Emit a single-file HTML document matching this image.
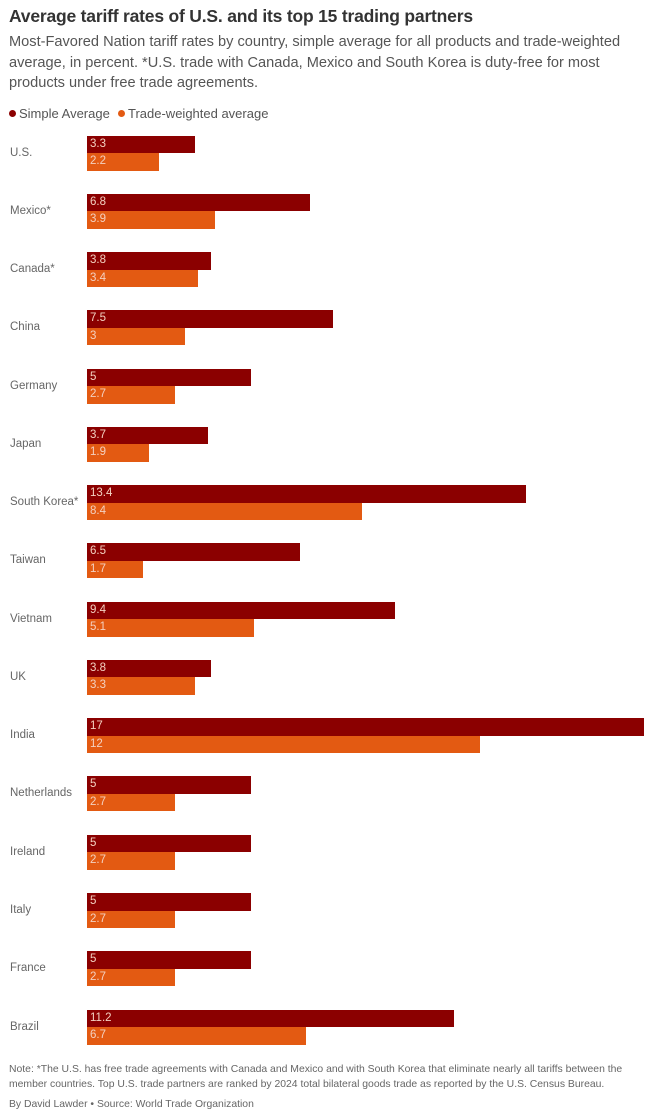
<!DOCTYPE html>
<html><head><meta charset="utf-8"><style>
body{margin:0;width:650px;height:1112px;background:#fff;font-family:"Liberation Sans",sans-serif;position:relative;overflow:hidden}
.t{position:absolute;left:9px;top:6px;font-size:17.5px;font-weight:bold;color:#333;white-space:nowrap;letter-spacing:-0.2px}
.s{position:absolute;left:9px;top:32px;width:640px;font-size:14.6px;line-height:20.5px;color:#555}
.lg{position:absolute;top:106px;font-size:13px;color:#555;white-space:nowrap}
.dot{display:inline-block;width:7px;height:7px;border-radius:50%;margin-right:3px;vertical-align:1px}
.c{position:absolute;left:10px;font-size:11.5px;color:#666}
.b{position:absolute;left:87px;height:17.5px;color:#f3d0c0;font-size:11.5px;line-height:17px;box-sizing:border-box;padding-left:3px}
.d{background:#8b0000}.o{background:#e35a12}
.f{position:absolute;left:9px;font-size:10.4px;color:#666;line-height:15px;width:640px}
</style></head><body>
<div class="t">Average tariff rates of U.S. and its top 15 trading partners</div>
<div class="s">Most-Favored Nation tariff rates by country, simple average for all products and trade-weighted average, in percent. *U.S. trade with Canada, Mexico and South Korea is duty-free for most products under free trade agreements.</div>
<div class="lg" style="left:9px"><span class="dot" style="background:#8b0000"></span>Simple Average</div>
<div class="lg" style="left:118px"><span class="dot" style="background:#e35a12"></span>Trade-weighted average</div>
<div id="ch"></div>
<div class="f" style="top:1062px">Note: *The U.S. has free trade agreements with Canada and Mexico and with South Korea that eliminate nearly all tariffs between the member countries. Top U.S. trade partners are ranked by 2024 total bilateral goods trade as reported by the U.S. Census Bureau.</div>
<div class="f" style="top:1097px">By David Lawder • Source: World Trade Organization</div>
<script>
var d=[["U.S.",3.3,2.2],["Mexico*",6.8,3.9],["Canada*",3.8,3.4],["China",7.5,3],["Germany",5,2.7],["Japan",3.7,1.9],["South Korea*",13.4,8.4],["Taiwan",6.5,1.7],["Vietnam",9.4,5.1],["UK",3.8,3.3],["India",17,12],["Netherlands",5,2.7],["Ireland",5,2.7],["Italy",5,2.7],["France",5,2.7],["Brazil",11.2,6.7]];
var h="";d.forEach(function(r,i){var y=135.5+i*58.27;
h+='<div class="c" style="top:'+(y+11)+'px">'+r[0]+'</div>';
h+='<div class="b d" style="top:'+y+'px;width:'+(r[1]*32.76)+'px">'+r[1]+'</div>';
h+='<div class="b o" style="top:'+(y+17.5)+'px;width:'+(r[2]*32.76)+'px">'+r[2]+'</div>';});
document.getElementById("ch").innerHTML=h;
</script>
</body></html>
